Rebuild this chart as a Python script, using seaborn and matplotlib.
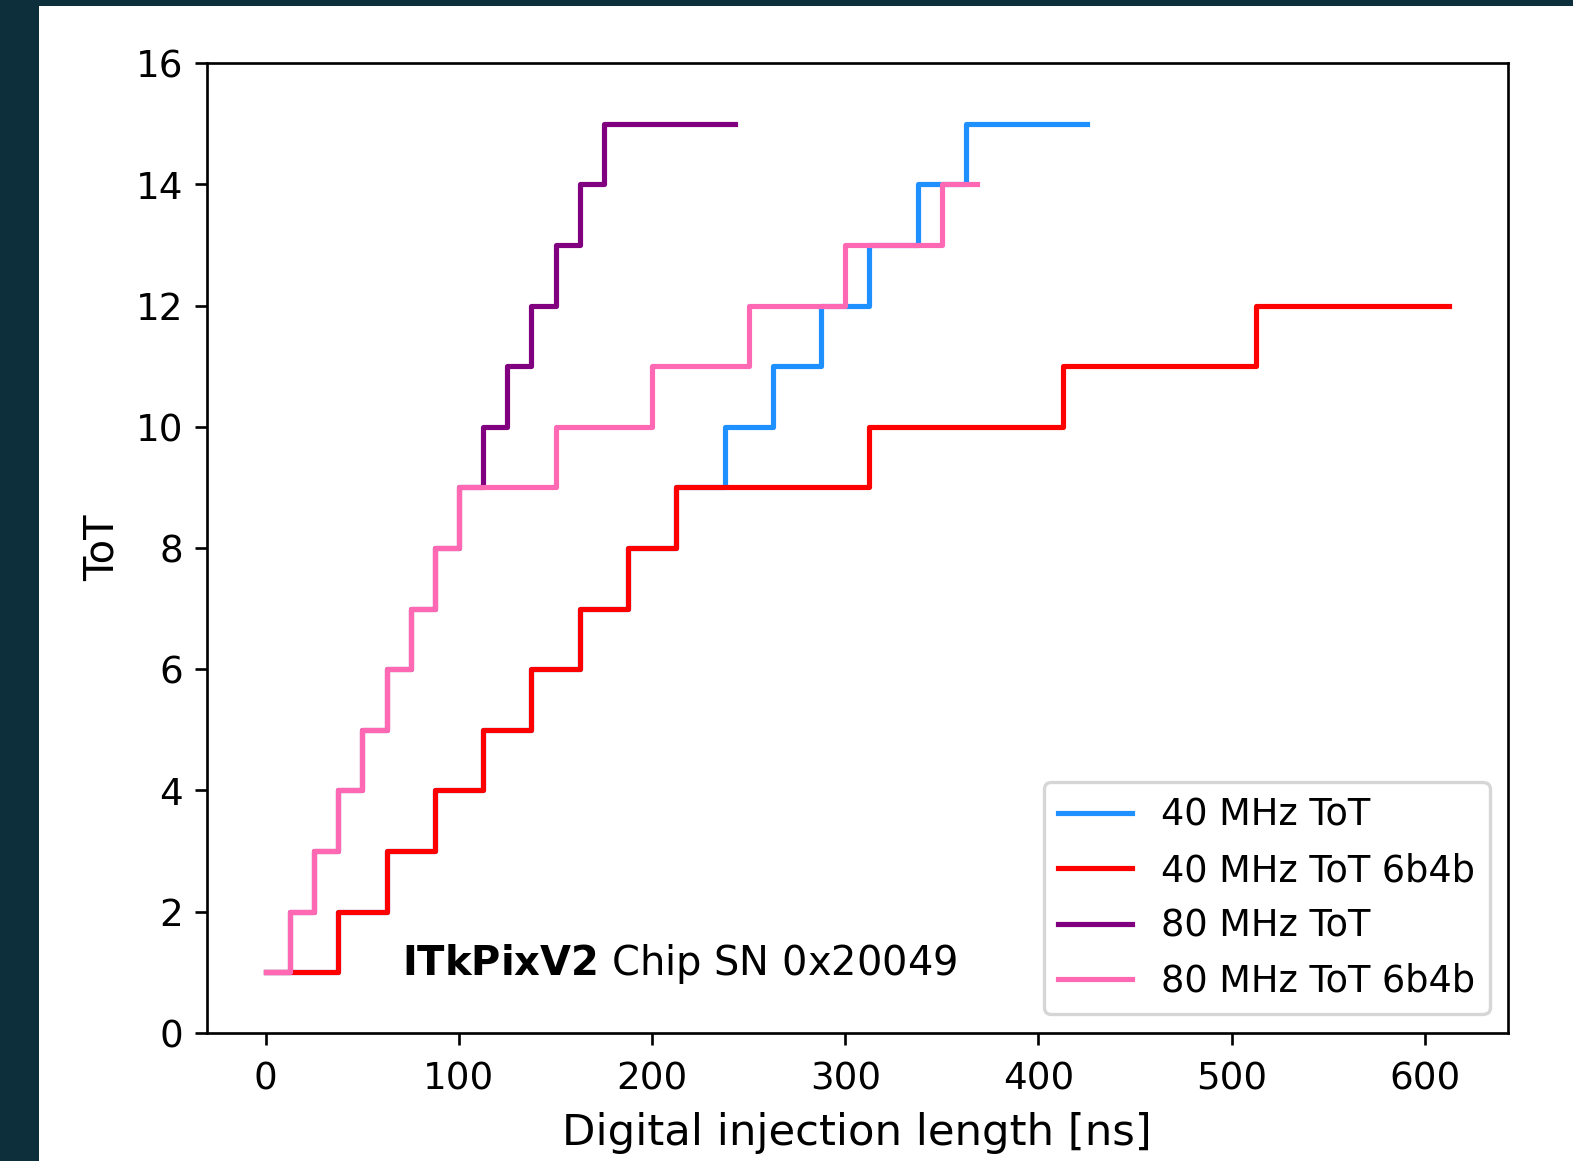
import numpy as np
import pandas as pd
import matplotlib
matplotlib.use("Agg")
import matplotlib.pyplot as plt
import seaborn as sns
from matplotlib.patches import Rectangle

# ---- data ----
series_names = ["40 MHz ToT", "40 MHz ToT 6b4b", "80 MHz ToT", "80 MHz ToT 6b4b"]
series_colors = ["#1e90ff", "#ff0000", "#800080", "#ff69b4"]

x_40 = [0, 37.5, 62.5, 87.5, 112.5, 137.5, 162.5, 187.5, 212.5,
        237.5, 262.5, 287.5, 312.5, 337.5, 362.5, 425]
tot_40 = [1, 2, 3, 4, 5, 6, 7, 8, 9, 10, 11, 12, 13, 14, 15, 15]

x_40_6b4b = [0, 37.5, 62.5, 87.5, 112.5, 137.5, 162.5, 187.5, 212.5,
             312.5, 412.5, 512.5, 612.5]
tot_40_6b4b = [1, 2, 3, 4, 5, 6, 7, 8, 9, 10, 11, 12, 12]

x_80 = [0, 12.5, 25, 37.5, 50, 62.5, 75, 87.5, 100,
        112.5, 125, 137.5, 150, 162.5, 175, 243]
tot_80 = [1, 2, 3, 4, 5, 6, 7, 8, 9, 10, 11, 12, 13, 14, 15, 15]

x_80_6b4b = [0, 12.5, 25, 37.5, 50, 62.5, 75, 87.5, 100,
             150, 200, 250, 300, 350, 368]
tot_80_6b4b = [1, 2, 3, 4, 5, 6, 7, 8, 9, 10, 11, 12, 13, 14, 14]

y_ticks = [0, 2, 4, 6, 8, 10, 12, 14, 16]
annotation_bold = "ITkPixV2"
annotation_rest = "Chip SN 0x20049"

# ---- long-form table ----
frames = []
for name, xs, ys in zip(series_names,
                        [x_40, x_40_6b4b, x_80, x_80_6b4b],
                        [tot_40, tot_40_6b4b, tot_80, tot_80_6b4b]):
    frames.append(pd.DataFrame({"length": xs, "tot": ys, "series": name}))
df = pd.concat(frames, ignore_index=True)

# ---- figure ----
W, H, DPI = 1573, 1161, 240
fig = plt.figure(figsize=(W / DPI, H / DPI), dpi=DPI)
fig.patch.set_facecolor("#0c2f3b")
bg = Rectangle((39 / W, 0), 1 - 39 / W, 1 - 6 / H,
               transform=fig.transFigure, facecolor="white",
               edgecolor="none", zorder=-10)
fig.patches.append(bg)

ax = fig.add_axes([0.1314, 0.1105, 0.8273, 0.835])
ax.set_zorder(1)
sns.lineplot(data=df, x="length", y="tot", hue="series",
             hue_order=series_names, palette=series_colors,
             drawstyle="steps-post", estimator=None, sort=False,
             linewidth=1.55, ax=ax)

ax.set_ylim(0, 16)
ax.set_yticks(y_ticks)
ax.set_xlabel("Digital injection length [ns]", fontsize=13, labelpad=4.6)
ax.set_ylabel("ToT", fontsize=12)
ax.tick_params(labelsize=11.2)
ax.tick_params(axis="x", pad=4.7)

ax.text(0.15, 0.06, r"$\bf{" + annotation_bold + "}$ " + annotation_rest,
        transform=ax.transAxes, fontsize=12)

sns.move_legend(ax, "lower right", title=None, fontsize=11,
                labelspacing=0.5)

fig.savefig("out.png", dpi=DPI, facecolor=fig.get_facecolor())
